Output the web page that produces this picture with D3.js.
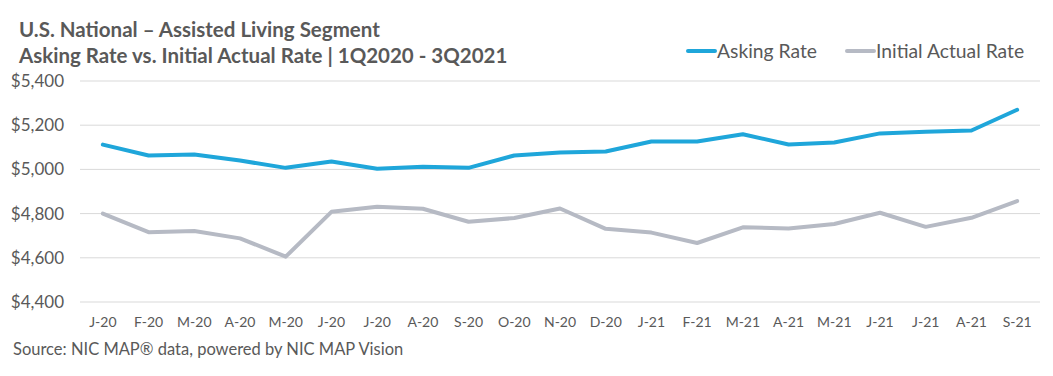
<!DOCTYPE html>
<html><head><meta charset="utf-8">
<script src="https://cdn.jsdelivr.net/npm/d3@7"></script>
<style>body{margin:0;background:#fff}svg{display:block}</style>
</head><body>
<svg id="c" width="1053" height="376"></svg>
<script>
const categories = ["J-20","F-20","M-20","A-20","M-20","J-20","J-20","A-20","S-20","O-20","N-20","D-20","J-21","F-21","M-21","A-21","M-21","J-21","J-21","A-21","S-21"];
const askingRate = [5112,5063,5067,5040,5007,5036,5003,5012,5007,5063,5076,5081,5126,5126,5159,5113,5122,5163,5170,5176,5270];
const initialActualRate = [4800,4716,4721,4688,4605,4808,4831,4822,4763,4780,4823,4731,4714,4667,4738,4733,4753,4804,4740,4781,4857];
const yTicks = [4400,4600,4800,5000,5200,5400];
const seriesNames = ["Asking Rate","Initial Actual Rate"];
const colors = ["#1FA6DA","#B6BAC4"];

const svg = d3.select("#c");
const font = "Lato, 'Open Sans', sans-serif";
const textColor = "#595959";

const x = d3.scaleBand().domain(d3.range(categories.length)).range([80,1040]);
const y = d3.scaleLinear().domain([4400,5400]).range([302,81]);

// gridlines
svg.append("g").selectAll("line").data(yTicks).join("line")
  .attr("x1",80).attr("x2",1040)
  .attr("y1",d=>y(d)).attr("y2",d=>y(d))
  .attr("stroke","#D9D9D9").attr("stroke-width",1);

// y axis labels
const yAxis = d3.axisLeft(y).tickValues(yTicks).tickSize(0).tickPadding(0)
  .tickFormat(d=>"$"+d3.format(",")(d));
const ya = svg.append("g").attr("transform","translate(64,0)").call(yAxis);
ya.select(".domain").remove();
ya.selectAll("text").attr("font-family",font).attr("font-size",17).attr("fill",textColor);

// x axis labels
const xAxis = d3.axisBottom(x).tickSize(0).tickPadding(0).tickFormat(i=>categories[i]);
const xa = svg.append("g").attr("transform","translate(0,317)").call(xAxis);
xa.select(".domain").remove();
xa.selectAll("text").attr("font-family",font).attr("font-size",14).attr("fill",textColor);

// lines
const line = d3.line().x((d,i)=>x(i)+x.bandwidth()/2).y(d=>y(d));
[initialActualRate, askingRate].forEach((s,k)=>{
  svg.append("path").datum(s).attr("d",line).attr("fill","none")
    .attr("stroke", k===0?colors[1]:colors[0]).attr("stroke-width",4)
    .attr("stroke-linejoin","round").attr("stroke-linecap","round");
});

// title
svg.append("text").attr("x",19).attr("y",37).attr("font-family",font).attr("font-weight","bold")
  .attr("font-size",20.5).attr("fill",textColor).text("U.S. National – Assisted Living Segment");
svg.append("text").attr("x",19).attr("y",63).attr("font-family",font).attr("font-weight","bold")
  .attr("font-size",20.5).attr("fill",textColor).text("Asking Rate vs. Initial Actual Rate | 1Q2020 - 3Q2021");

// legend
const leg = [{x:688,name:seriesNames[0],c:colors[0]},{x:847,name:seriesNames[1],c:colors[1]}];
leg.forEach(l=>{
  svg.append("line").attr("x1",l.x).attr("x2",l.x+27).attr("y1",51).attr("y2",51)
    .attr("stroke",l.c).attr("stroke-width",4).attr("stroke-linecap","round");
  svg.append("text").attr("x",l.x+29).attr("y",57.5).attr("font-family",font)
    .attr("font-size",19.3).attr("fill",textColor).text(l.name);
});

// source
svg.append("text").attr("x",13).attr("y",355).attr("font-family",font)
  .attr("font-size",16.5).attr("fill",textColor).text("Source: NIC MAP® data, powered by NIC MAP Vision");
</script>
</body></html>
